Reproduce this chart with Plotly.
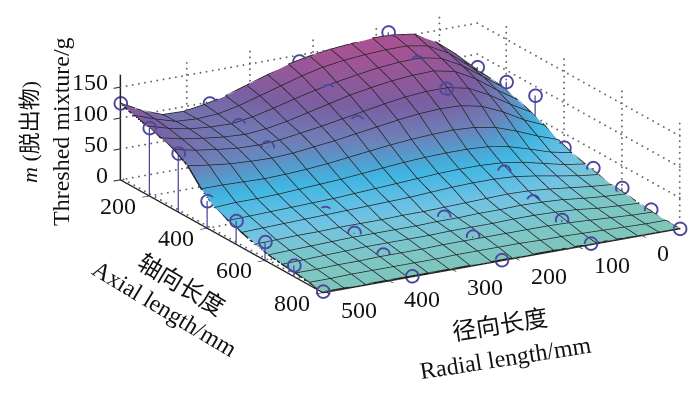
import plotly.graph_objects as go

radial = [505.0, 471.8, 438.5, 405.3, 372.1, 338.8, 305.6, 272.4, 239.1, 205.9, 172.6, 139.4, 106.2, 72.9, 39.7, 6.5, -26.8, -60.0]
axial = [100.0, 146.7, 193.3, 240.0, 286.7, 333.3, 380.0, 426.7, 473.3, 520.0, 566.7, 613.3, 660.0, 706.7, 753.3, 800.0]
surface_z = [
    [124, 106, 93, 92, 97, 105, 116, 127, 138, 145, 150, 153, 156, 155, 150, 132, 105, 74],
    [116, 104, 94, 92, 94, 101, 111, 121, 131, 139, 144, 147, 149, 149, 143, 125, 98, 72],
    [111, 101, 94, 91, 90, 95, 103, 112, 120, 127, 133, 138, 141, 142, 135, 117, 93, 69],
    [104, 96, 91, 87, 85, 88, 94, 102, 110, 118, 124, 129, 132, 133, 126, 108, 84, 62],
    [97, 90, 85, 81, 80, 82, 87, 92, 98, 104, 110, 115, 118, 118, 111, 94, 73, 54],
    [83, 78, 74, 72, 71, 73, 77, 81, 86, 91, 96, 100, 102, 101, 94, 79, 60, 45],
    [58, 58, 57, 56, 57, 59, 62, 66, 70, 74, 77, 79, 80, 78, 72, 60, 46, 34],
    [40, 42, 42, 43, 45, 47, 49, 52, 55, 58, 60, 61, 61, 59, 53, 43, 32, 25],
    [31, 32, 33, 34, 35, 36, 38, 40, 42, 44, 46, 47, 47, 45, 40, 32, 24, 19],
    [24, 25, 26, 27, 28, 29, 30, 31, 32, 34, 36, 37, 37, 35, 30, 24, 18, 14],
    [17, 18, 19, 19, 20, 20, 20, 21, 21, 22, 23, 24, 25, 24, 21, 17, 13, 10],
    [12, 13, 14, 15, 16, 16, 16, 16, 17, 17, 18, 18, 19, 18, 16, 12, 9, 7],
    [9, 10, 11, 12, 13, 13, 13, 13, 14, 14, 14, 15, 15, 14, 12, 8, 6, 4],
    [7, 7, 8, 8, 9, 9, 9, 10, 10, 10, 10, 10, 10, 9, 7, 5, 3, 2],
    [4, 4, 5, 5, 5, 5, 5, 6, 6, 6, 6, 5, 5, 4, 3, 2, 1, 1],
    [1, 1, 1, 1, 1, 1, 1, 1, 1, 1, 1, 1, 1, 1, 1, 0, 0, 0],
]
meas_radial = [505, 364, 222, 81, -60]
meas_axial = [100, 200, 300, 400, 500, 600, 700, 800]
meas_z = [
    [124, 110, 95, 44, 38, 30, 18, 2],
    [98, 89, 79, 26, 25, 19, 10, 1],
    [140, 118, 94, 31, 24, 19, 13, 1],
    [161, 139, 122, 46, 40, 18, 14, 2],
    [79, 81, 85, 27, 20, 14, 5, 0],
]
radial_ticks = [0, 100, 200, 300, 400, 500]
axial_ticks = [200, 400, 600, 800]
z_ticks = [0, 50, 100, 150]
radial_range = [-60, 505]
axial_range = [100, 800]
z_range = [0, 170]

FONT = "Liberation Serif, Noto Sans CJK SC, serif"
STEM = "#4B479C"
GRID = "#666666"
MESH = "#222222"
colorscale = [
    [0.00, "#7EC6BA"], [0.06, "#7CC6C8"], [0.14, "#72C3E4"], [0.30, "#40B6E2"], [0.42, "#5A95C8"],
    [0.50, "#6E80B8"], [0.68, "#7A5FA2"], [1.00, "#B0508F"],
]

fig = go.Figure()
fig.add_trace(go.Surface(
    x=radial, y=axial, z=surface_z, colorscale=colorscale, cmin=0, cmax=160, showscale=False,
    lighting=dict(ambient=1, diffuse=0, specular=0, fresnel=0, roughness=1),
))

# mesh lines following the surface table
lx, ly, lz = [], [], []
for a, row in zip(axial, surface_z):
    lx += radial + [None]; ly += [a]*len(radial) + [None]; lz += row + [None]
for k, rv in enumerate(radial):
    lx += [rv]*len(axial) + [None]; ly += axial + [None]; lz += [row[k] for row in surface_z] + [None]
fig.add_trace(go.Scatter3d(x=lx, y=ly, z=lz, mode="lines", line=dict(color=MESH, width=3), hoverinfo="skip"))

# stems and open markers
sx, sy, sz, mx, my, mz = [], [], [], [], [], []
for r, row in zip(meas_radial, meas_z):
    for a, v in zip(meas_axial, row):
        sx += [r, r, None]; sy += [a, a, None]; sz += [0, v, None]
        mx.append(r); my.append(a); mz.append(v)
fig.add_trace(go.Scatter3d(x=sx, y=sy, z=sz, mode="lines", line=dict(color=STEM, width=2.5), hoverinfo="skip"))
fig.add_trace(go.Scatter3d(x=mx, y=my, z=mz, mode="markers",
                           marker=dict(symbol="circle-open", size=8, color=STEM, line=dict(color=STEM, width=1.2))))

# dotted grid on the two back walls and floor, drawn as small dots
gx, gy, gz = [], [], []
def dots(a, b, n):
    for k in range(n + 1):
        t = k / n
        gx.append(a[0] + (b[0]-a[0])*t); gy.append(a[1] + (b[1]-a[1])*t); gz.append(a[2] + (b[2]-a[2])*t)
r0, r1 = radial_range[1], radial_range[0]
a0, a1 = axial_range
for r in radial_ticks[:-1]:
    dots((r, a0, 0), (r, a0, z_range[1]), 18)
for a in axial_ticks:
    dots((r1, a, 0), (r1, a, z_range[1]), 18)
for z in z_ticks:
    dots((r0, a0, z), (r1, a0, z), 58)
    dots((r1, a0, z), (r1, a1, z), 38)
for r in radial_ticks:
    dots((r, a0, 0), (r, a1, 0), 38)
for a in axial_ticks:
    dots((r1, a, 0), (r0, a, 0), 58)
fig.add_trace(go.Scatter3d(x=gx, y=gy, z=gz, mode="markers", marker=dict(size=1.1, color=GRID), hoverinfo="skip"))

axis = dict(showgrid=False, showbackground=False, zeroline=False, showspikes=False, showline=True,
            linecolor="#222222", linewidth=3, ticks="outside", ticklen=8, tickcolor="#222222", tickwidth=2,
            showticklabels=False, title=dict(text=""))

tick_font = dict(family=FONT, size=24, color="#111111")
tick_labels = []
for v in z_ticks:
    tick_labels.append(dict(x=radial_range[1], y=axial_range[0], z=v, text=str(v), xanchor="right", yanchor="middle",
                            xshift=-10, yshift=5, showarrow=False, font=tick_font))
for v in axial_ticks:
    tick_labels.append(dict(x=radial_range[1], y=v, z=0, text=str(v), xanchor="right", yanchor="middle",
                            xshift=-11, yshift=-10, showarrow=False, font=tick_font))
for v in radial_ticks:
    tick_labels.append(dict(x=v, y=axial_range[1], z=0, text=str(v), xanchor="left", yanchor="middle",
                            xshift=13, yshift=-18, showarrow=False, font=tick_font))

r = 8
A = 2.088
dx, dy, dz = 0.468, 0.825, 0.316
cx, cy, cz = 0.228, -0.032, -0.255
fig.update_layout(
    width=700, height=393, margin=dict(l=0, r=0, t=0, b=0), paper_bgcolor="white", showlegend=False,
    scene=dict(
        domain=dict(x=[0, 1], y=[0, 1]),
        xaxis=dict(axis, range=radial_range, tickvals=radial_ticks),
        yaxis=dict(axis, range=axial_range, tickvals=axial_ticks),
        zaxis=dict(axis, range=z_range, tickvals=z_ticks),
        aspectmode="manual", aspectratio=dict(x=A, y=A, z=0.27*A),
        camera=dict(eye=dict(x=cx+dx*r, y=cy+dy*r, z=cz+dz*r), center=dict(x=cx, y=cy, z=cz), up=dict(x=0, y=0, z=1),
                    projection=dict(type="orthographic")),
        annotations=tick_labels,
    ),
    annotations=[
        dict(text="<i>m</i> (脱出物)", x=22/700, y=1-124/393, textangle=-90, font=dict(size=22)),
        dict(text="Threshed mixture/g", x=53/700, y=1-124/393, textangle=-90, font=dict(size=24)),
        dict(text="轴向长度", x=173/700, y=1-277/393, textangle=31, font=dict(size=24)),
        dict(text="Axial length/mm", x=157/700, y=1-301/393, textangle=31, font=dict(size=24)),
        dict(text="径向长度", x=492/700, y=1-317/393, textangle=-9, font=dict(size=24)),
        dict(text="Radial length/mm", x=497/700, y=1-350/393, textangle=-9, font=dict(size=24)),
    ],
)
for a in fig.layout.annotations:
    a.update(xref="paper", yref="paper", showarrow=False, xanchor="center", yanchor="middle")
    a.font.family = FONT
    a.font.color = "#111111"
fig.write_html("out.html")
